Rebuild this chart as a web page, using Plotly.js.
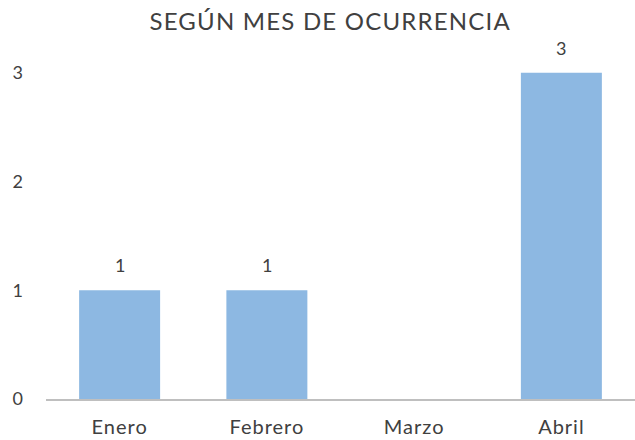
<!DOCTYPE html>
<html><head><meta charset="utf-8">
<script src="https://cdn.plot.ly/plotly-3.0.1.min.js"></script>
<style>html,body{margin:0;padding:0;background:#fff}.gtitle{letter-spacing:1.2px}.xtick text{letter-spacing:1px}</style>
</head><body><div id="chart" style="width:635px;height:440px"></div>
<script>
const months = ["Enero", "Febrero", "Marzo", "Abril"];
const counts = [1, 1, 0, 3];
const yTicks = [0, 1, 2, 3];
const chartTitle = "SEGÚN MES DE OCURRENCIA";

const FONT = "Lato, 'Open Sans', sans-serif";
const labels = months.map((m, i) => counts[i] > 0 ? {
  x: m, y: counts[i], text: String(counts[i]), showarrow: false,
  xref: 'x', yref: 'y', yanchor: 'bottom', yshift: 12,
  font: {family: FONT, size: 18, color: '#404040'}
} : null).filter(a => a);

Plotly.newPlot('chart', [{
  type: 'bar', x: months, y: counts,
  marker: {color: '#8DB8E2'}, width: 0.55, hoverinfo: 'none'
}], {
  width: 635, height: 440,
  margin: {l: 46, r: 0, t: 50, b: 41},
  paper_bgcolor: '#fff', plot_bgcolor: '#fff',
  title: {text: chartTitle, x: 0.52, xanchor: 'center', y: 0.95, yanchor: 'middle',
          font: {family: FONT, size: 24, color: '#404040'}},
  xaxis: {showline: true, linecolor: '#BFBFBF', linewidth: 2, showgrid: false, zeroline: false,
          ticks: '', ticklabelstandoff: 9,
          tickfont: {family: FONT, size: 20, color: '#404040'}},
  yaxis: {range: [0, 3.21], tickvals: yTicks, showgrid: false, zeroline: false, showline: false,
          ticks: '', ticklabelstandoff: 22,
          tickfont: {family: FONT, size: 18, color: '#404040'}},
  annotations: labels,
  showlegend: false
}, {staticPlot: true});
</script></body></html>
